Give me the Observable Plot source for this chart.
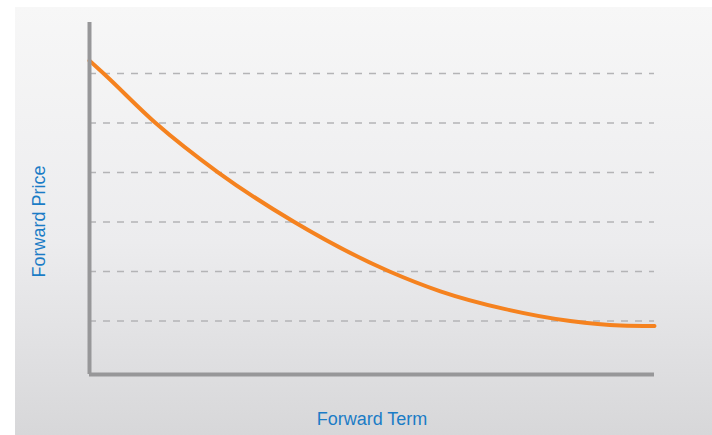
<!DOCTYPE html>
<html>
<head>
<meta charset="utf-8">
<script src="https://cdn.jsdelivr.net/npm/d3@7"></script>
<script src="https://cdn.jsdelivr.net/npm/@observablehq/plot@0.6"></script>
<style>
  html, body { margin: 0; padding: 0; background: #ffffff; }
  #wrap { position: relative; width: 712px; height: 435px; overflow: hidden; }
  #panel {
    position: absolute; left: 15px; top: 7px; right: 0; bottom: 0;
    background: linear-gradient(to bottom, #f7f7f7 0%, #ececee 55%, #d7d7d9 100%);
  }
  #chart { position: absolute; left: 0; top: 0; }
  #chart svg { background: transparent; }
</style>
</head>
<body>
<div id="wrap">
  <div id="panel"></div>
  <div id="chart"></div>
</div>
<script>
// Forward curve: price falls with term and flattens out near the long end
const term  = [0,    0.25, 1.17, 2.28, 3.61, 5.31, 6.21, 7.36, 8.51, 9.40, 10];
const price = [6.26, 6.0,  5.0,  4.0,  3.01, 2.0,  1.60, 1.24, 1.0,  0.91, 0.90];

// Price levels marked with dashed guide lines
const gridLevels = [1, 2, 3, 4, 5, 6];

const xLabel = "Forward Term";
const yLabel = "Forward Price";

const curve = term.map((t, i) => ({term: t, price: price[i]}));

const yMin = -0.08, yMax = 7.03;

const chart = Plot.plot({
  width: 712,
  height: 435,
  marginLeft: 89,
  marginRight: 58,
  marginTop: 22,
  marginBottom: 61,
  style: {background: "transparent"},
  x: {domain: [0, 10], axis: null},
  y: {domain: [yMin, yMax], axis: null},
  marks: [
    Plot.gridY(gridLevels, {
      stroke: "#b4b4b6",
      strokeOpacity: 1,
      strokeWidth: 1.5,
      strokeDasharray: "7,7"
    }),
    Plot.line(curve, {
      x: "term",
      y: "price",
      curve: "monotone-x",
      stroke: "#f5821f",
      strokeWidth: 4
    }),
    // Axis lines
    Plot.ruleX([0], {y1: yMin, y2: yMax, stroke: "#979799", strokeWidth: 4}),
    Plot.ruleY([yMin], {x1: 0, x2: 10, stroke: "#979799", strokeWidth: 4}),
    // Axis titles
    Plot.text([yLabel], {
      frameAnchor: "left",
      textAnchor: "middle",
      lineAnchor: "middle",
      dx: -50,
      dy: 23,
      rotate: -90,
      fill: "#1b7cc6",
      fontSize: 18,
      fontFamily: "Liberation Sans, Arial, sans-serif",
      text: d => d
    }),
    Plot.text([xLabel], {
      frameAnchor: "bottom",
      textAnchor: "middle",
      lineAnchor: "middle",
      dy: 45,
      fill: "#1b7cc6",
      fontSize: 18,
      fontFamily: "Liberation Sans, Arial, sans-serif",
      text: d => d
    })
  ]
});

document.getElementById("chart").appendChild(chart);
</script>
</body>
</html>
